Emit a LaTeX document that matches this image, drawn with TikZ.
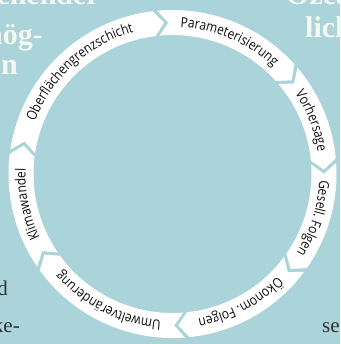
\documentclass[tikz,border=0pt]{standalone}
\usepackage{fontspec}
\setmainfont{Liberation Serif}
\newfontfamily\ringfont[FakeStretch=0.85]{Open Sans}
\usetikzlibrary{decorations.text}
\definecolor{bg}{RGB}{170,211,218}
\definecolor{ringtext}{RGB}{15,15,15}
\definecolor{pagewhite}{RGB}{246,248,242}
\definecolor{pagedark}{RGB}{50,50,50}
\def\rOut{164}
\def\rIn{139}
\def\rMid{151.5}
\def\rTxt{147}
\def\gp{1.6}
\def\dl{3.8}
\newcommand\ringseg[3]{%
  \fill[segfill] ({#1-\gp}:\rOut) arc[start angle={#1-\gp}, end angle={#2}, radius=\rOut]
    -- ({#2-\dl}:\rMid) -- ({#2}:\rIn)
    arc[start angle={#2}, end angle={#1-\gp}, radius=\rIn]
    -- ({#1-\gp-\dl}:\rMid) -- cycle;
  \path[decorate, decoration={text along path, text align=center,
      text={|\ringfont\fontsize{14}{16}\selectfont\color{ringtext}|#3}}]
    ({#1-\gp-\dl/2}:\rTxt) arc[start angle={#1-\gp-\dl/2}, end angle={#2-\dl/2}, radius=\rTxt];
}
\begin{document}
\begin{tikzpicture}[x=1pt,y=1pt,
  segfill/.style={fill=white},
  pagew/.style={text=pagewhite, inner sep=0pt, font=\bfseries\fontsize{30}{30}\selectfont},
  paged/.style={text=pagedark, inner sep=0pt, font=\fontsize{21}{24}\selectfont}]
\useasboundingbox (0,0) rectangle (340,344);
\clip (0,0) rectangle (340,344);
\fill[bg] (0,0) rectangle (340,344);
% fragments of surrounding page text
\node[pagew, anchor=base east] (w1) at (100,339) {eichender};
\node[pagew, anchor=base east] (w2) at (43,299) {mög-};
\node[pagew, anchor=base east] (w3) at (18,269) {n};
\node[pagew, anchor=base west] (w4) at (286,339) {Ozean};
\node[pagew, anchor=base west] (w5) at (305,306) {lich};
\node[paged, anchor=base east] (d1) at (8,48) {d};
\node[paged, anchor=base east] (d2) at (20,12) {ke-};
\node[paged, anchor=base west] (d3) at (322,11) {se};
% cycle ring
\begin{scope}[shift={(172.5,170)}]
\ringseg{173}{97}{Oberflächengrenzschicht}
\ringseg{97}{42}{Parameterisierung}
\ringseg{42}{5.5}{Vorhersage}
\ringseg{5.5}{-35}{Gesell. Folgen}
\ringseg{-35}{-84}{Ökonom. Folgen}
\ringseg{-84}{-144}{Umweltveränderung}
\ringseg{-144}{-187}{Klimawandel}
\end{scope}
\end{tikzpicture}
\end{document}
